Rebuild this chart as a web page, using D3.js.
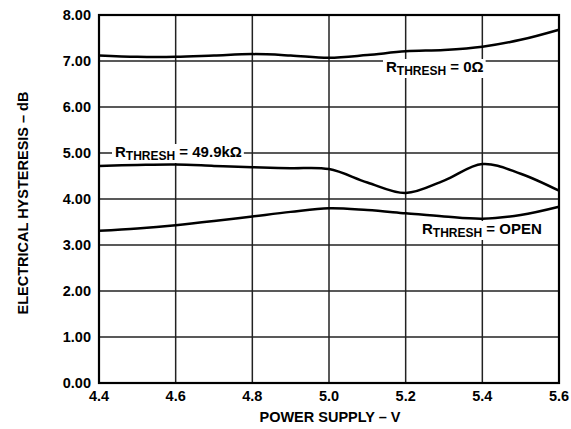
<!DOCTYPE html>
<html><head><meta charset="utf-8">
<script src="https://cdn.jsdelivr.net/npm/d3@7"></script>
<style>body{margin:0;background:#fff}svg{display:block}text{font-family:"Liberation Sans",Arial,sans-serif;font-weight:bold;fill:#000}</style>
</head><body>
<svg id="c" width="571" height="429"></svg>
<script>
const xTicks = [4.4, 4.6, 4.8, 5.0, 5.2, 5.4, 5.6];
const yTicks = [0, 1, 2, 3, 4, 5, 6, 7, 8];
const supplyV = [4.4, 4.5, 4.6, 4.7, 4.8, 4.9, 5.0, 5.1, 5.2, 5.3, 5.4, 5.5, 5.6];
const rZero =   [7.12, 7.09, 7.09, 7.12, 7.15, 7.12, 7.07, 7.13, 7.21, 7.24, 7.31, 7.46, 7.68];
const r49k =    [4.72, 4.74, 4.75, 4.72, 4.69, 4.67, 4.65, 4.36, 4.13, 4.40, 4.76, 4.55, 4.18];
const rOpen =   [3.31, 3.36, 3.43, 3.52, 3.62, 3.72, 3.80, 3.76, 3.69, 3.62, 3.57, 3.65, 3.83];

const svg = d3.select("#c");
const L = 99, R = 559, T = 15, B = 383;
const x = d3.scaleLinear().domain([4.4, 5.6]).range([L, R]);
const y = d3.scaleLinear().domain([0, 8]).range([B, T]);

// grid
const g = svg.append("g");
g.selectAll("line.v").data(xTicks).join("line")
  .attr("x1", d => x(d)).attr("x2", d => x(d)).attr("y1", T).attr("y2", B)
  .attr("stroke", "#222").attr("stroke-width", 1.5);
g.selectAll("line.h").data(yTicks).join("line")
  .attr("x1", L).attr("x2", R).attr("y1", d => y(d)).attr("y2", d => y(d))
  .attr("stroke", "#222").attr("stroke-width", 1.5);

// curves
const line = d3.line().x(d => x(d[0])).y(d => y(d[1])).curve(d3.curveCatmullRom.alpha(0.5));
[rZero, r49k, rOpen].forEach(s => {
  svg.append("path").datum(supplyV.map((v, i) => [v, s[i]]))
    .attr("d", line).attr("fill", "none").attr("stroke", "#000").attr("stroke-width", 2.5);
});

// frame
svg.append("rect").attr("x", L).attr("y", T).attr("width", R - L).attr("height", B - T)
  .attr("fill", "none").attr("stroke", "#000").attr("stroke-width", 2.2);

// tick labels
svg.selectAll("text.yt").data(yTicks).join("text")
  .attr("x", 91).attr("y", d => y(d) + 5).attr("text-anchor", "end")
  .attr("font-size", 14.5).text(d => d.toFixed(2));
svg.selectAll("text.xt").data(xTicks).join("text")
  .attr("x", d => x(d)).attr("y", 401).attr("text-anchor", "middle")
  .attr("font-size", 14.5).text(d => d.toFixed(1));

// axis titles
svg.append("text").attr("x", 330).attr("y", 422).attr("text-anchor", "middle")
  .attr("font-size", 14.5).text("POWER SUPPLY – V");
svg.append("text").attr("transform", "translate(28,203) rotate(-90)").attr("text-anchor", "middle")
  .attr("font-size", 14.5).text("ELECTRICAL HYSTERESIS – dB");

// curve labels
function label(px, py, tail) {
  const t = svg.append("text").attr("x", px).attr("y", py).attr("font-size", 15);
  t.append("tspan").text("R");
  t.append("tspan").attr("font-size", 12).attr("dy", 3).text("THRESH");
  t.append("tspan").attr("dy", -3).text(" = " + tail);
  const bb = t.node().getBBox();
  svg.insert("rect", function(){ return t.node(); })
    .attr("x", bb.x - 3).attr("y", bb.y + 1).attr("width", bb.width + 5).attr("height", bb.height - 1)
    .attr("fill", "#fff");
}
label(386, 72, "0Ω");
label(115, 157, "49.9kΩ");
label(422, 234, "OPEN");
</script>
</body></html>
